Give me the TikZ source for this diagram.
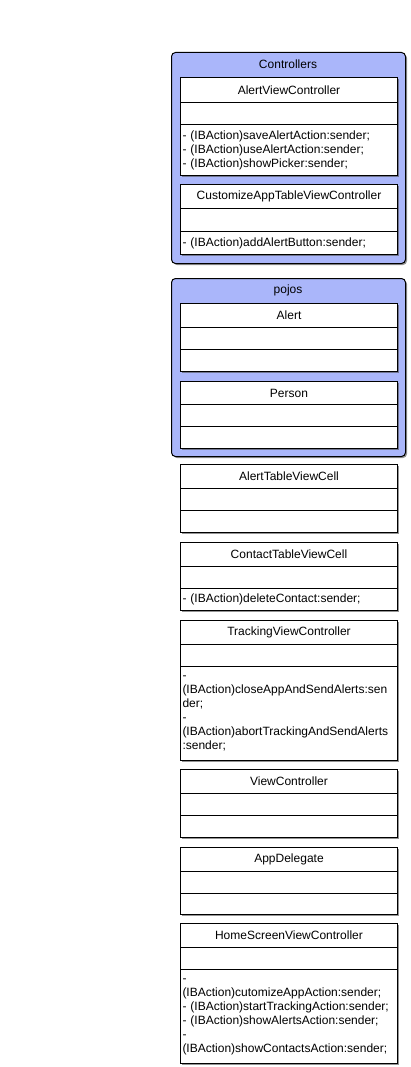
\documentclass[tikz,border=0pt]{standalone}
\usepackage{fontspec}
\setmainfont{Liberation Sans}
\usetikzlibrary{shadows}
\definecolor{pkgblue}{RGB}{170,182,250}
\tikzset{
  fs/.style={font=\fontsize{12}{14}\selectfont},
  pkg/.style={draw=black, fill=pkgblue, rounded corners=4pt, line width=1pt,
    drop shadow={shadow xshift=1.5pt, shadow yshift=-1.5pt, opacity=0.6, fill=black!70}},
  clsbox/.style={draw=black, fill=white, line width=1pt, anchor=north west, inner sep=0pt,
    minimum width=217pt,
    drop shadow={shadow xshift=1.5pt, shadow yshift=-1.5pt, opacity=0.6, fill=black!70}},
  sec/.style={draw=black, fill=white, line width=1pt, anchor=north west, inner sep=0pt,
    minimum width=217pt, fs},
  meth/.style={sec, align=left, text width=213pt, inner xsep=2pt},
  ttl/.style={fs, inner sep=0pt}
}
\begin{document}
\begin{tikzpicture}[x=1pt,y=-1pt]
\useasboundingbox (0,0) rectangle (410,1067);

% ---------- Controllers package
\node[pkg, anchor=north west, minimum width=234pt, minimum height=211pt, inner sep=0pt] (ctrl) at (171,52) {};
\node[ttl] (ctrlT) at (288,64) {Controllers};

\node[clsbox, minimum height=98pt] (avcB) at (180,77) {};
\node[sec, minimum height=25pt] (avcH) at (180,77) {AlertViewController};
\node[sec, minimum height=22pt] (avcA) at (180,102) {};
\node[meth, minimum height=51pt] (avcM) at (180,124) {- (IBAction)saveAlertAction:sender;\\- (IBAction)useAlertAction:sender;\\- (IBAction)showPicker:sender;};

\node[clsbox, minimum height=70pt] (catB) at (180,184) {};
\node[sec, minimum height=24pt] (catH) at (180,184) {CustomizeAppTableViewController};
\node[sec, minimum height=23pt] (catA) at (180,208) {};
\node[meth, minimum height=23pt] (catM) at (180,231) {- (IBAction)addAlertButton:sender;};

% ---------- pojos package
\node[pkg, anchor=north west, minimum width=234pt, minimum height=178pt, inner sep=0pt] (pojo) at (171,278) {};
\node[ttl] (pojoT) at (288,290) {pojos};

\node[clsbox, minimum height=68pt] (alB) at (180,303) {};
\node[sec, minimum height=24pt] (alH) at (180,303) {Alert};
\node[sec, minimum height=22pt] (alA) at (180,327) {};
\node[sec, minimum height=22pt] (alM) at (180,349) {};

\node[clsbox, minimum height=67pt] (peB) at (180,381) {};
\node[sec, minimum height=23pt] (peH) at (180,381) {Person};
\node[sec, minimum height=22pt] (peA) at (180,404) {};
\node[sec, minimum height=22pt] (peM) at (180,426) {};

% ---------- free classes
\node[clsbox, minimum height=68pt] (atcB) at (180,464) {};
\node[sec, minimum height=24pt] (atcH) at (180,464) {AlertTableViewCell};
\node[sec, minimum height=22pt] (atcA) at (180,488) {};
\node[sec, minimum height=22pt] (atcM) at (180,510) {};

\node[clsbox, minimum height=68pt] (ctcB) at (180,542) {};
\node[sec, minimum height=24pt] (ctcH) at (180,542) {ContactTableViewCell};
\node[sec, minimum height=22pt] (ctcA) at (180,566) {};
\node[meth, minimum height=22pt] (ctcM) at (180,588) {- (IBAction)deleteContact:sender;};

\node[clsbox, minimum height=140pt] (tvcB) at (180,620) {};
\node[sec, minimum height=24pt] (tvcH) at (180,620) {TrackingViewController};
\node[sec, minimum height=22pt] (tvcA) at (180,644) {};
\node[meth, minimum height=94pt] (tvcM) at (180,666) {-\\(IBAction)closeAppAndSendAlerts:sen\\der;\\-\\(IBAction)abortTrackingAndSendAlerts\\:sender;};

\node[clsbox, minimum height=68pt] (vcB) at (180,769) {};
\node[sec, minimum height=24pt] (vcH) at (180,769) {ViewController};
\node[sec, minimum height=22pt] (vcA) at (180,793) {};
\node[sec, minimum height=22pt] (vcM) at (180,815) {};

\node[clsbox, minimum height=67pt] (adB) at (180,847) {};
\node[sec, minimum height=24pt] (adH) at (180,847) {AppDelegate};
\node[sec, minimum height=22pt] (adA) at (180,871) {};
\node[sec, minimum height=21pt] (adM) at (180,893) {};

\node[clsbox, minimum height=140pt] (hsB) at (180,923) {};
\node[sec, minimum height=24pt] (hsH) at (180,923) {HomeScreenViewController};
\node[sec, minimum height=22pt] (hsA) at (180,947) {};
\node[meth, minimum height=94pt] (hsM) at (180,969) {-\\(IBAction)cutomizeAppAction:sender;\\- (IBAction)startTrackingAction:sender;\\- (IBAction)showAlertsAction:sender;\\-\\(IBAction)showContactsAction:sender;};
\end{tikzpicture}
\end{document}
